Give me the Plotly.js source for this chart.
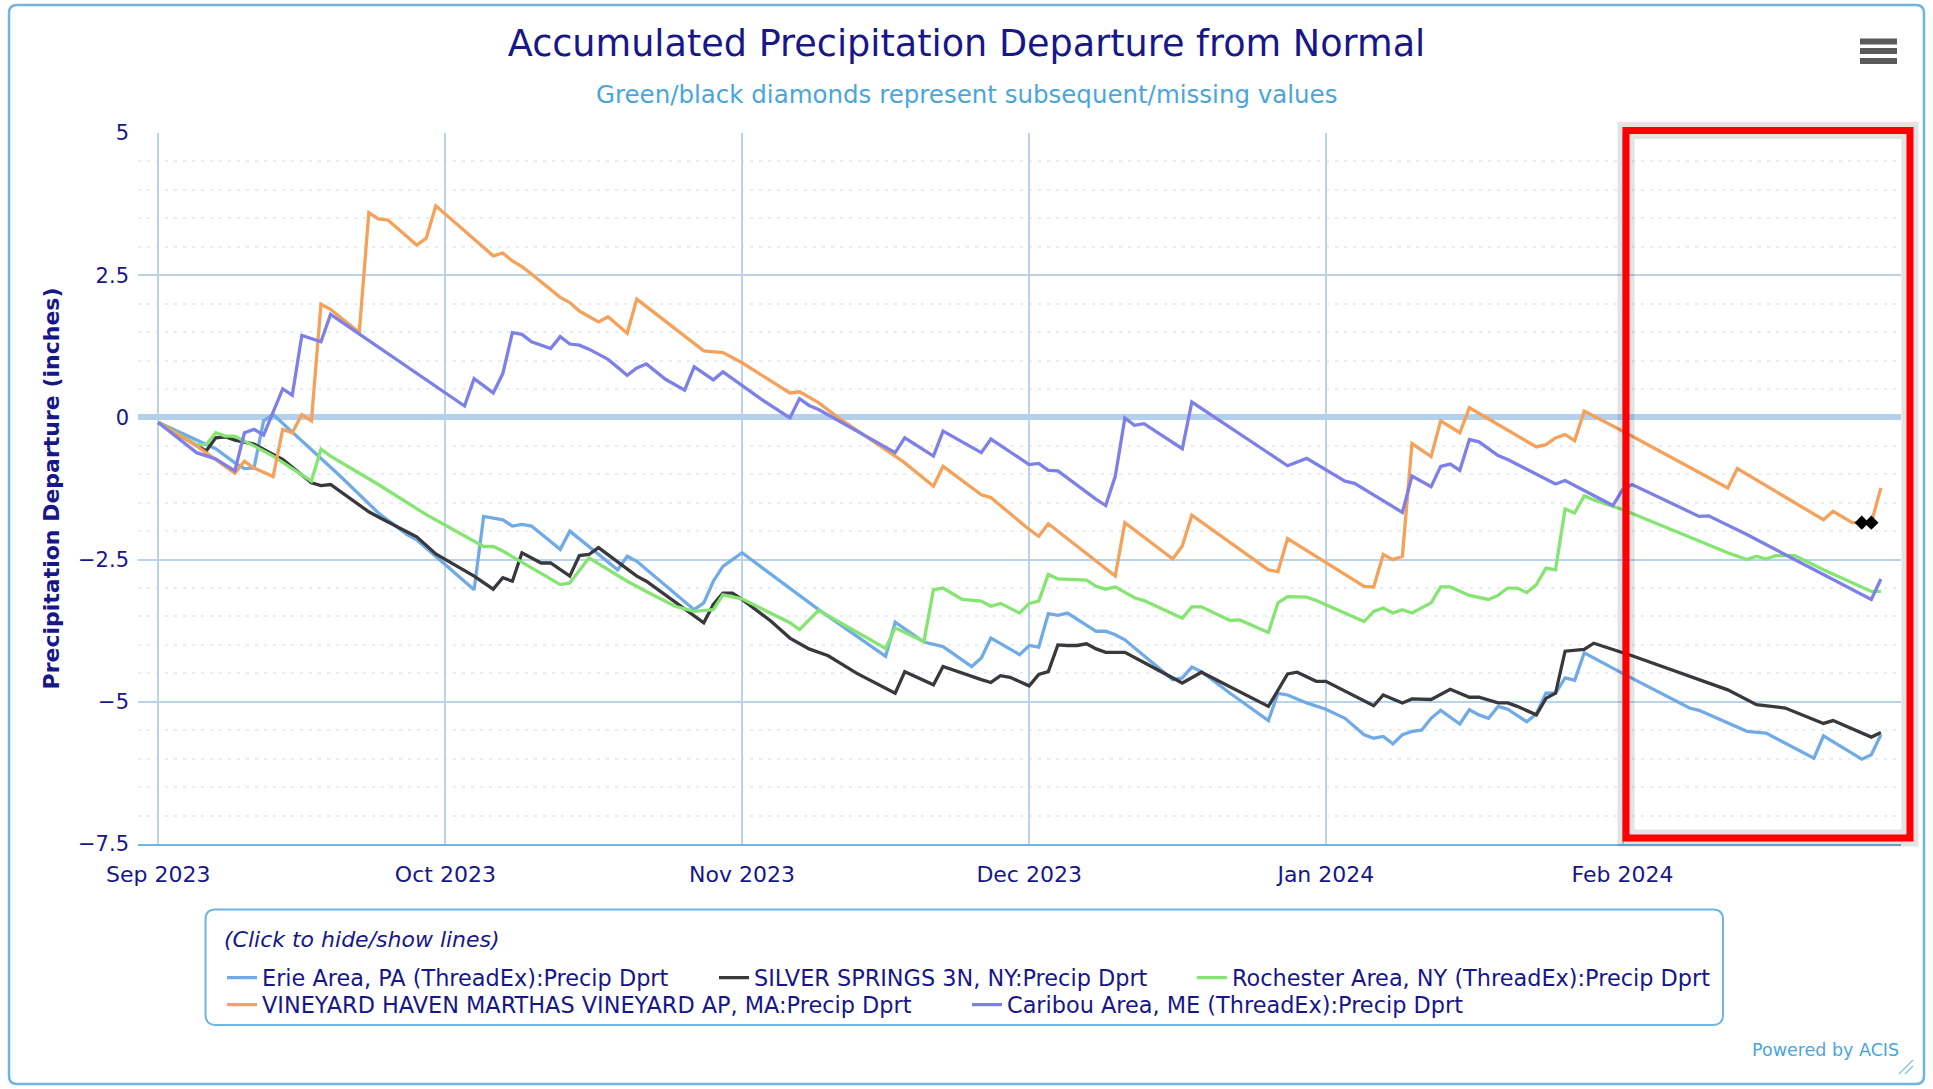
<!DOCTYPE html>
<html>
<head>
<meta charset="utf-8">
<script src="https://cdn.plot.ly/plotly-3.0.1.min.js"></script>
<style>
  html, body { margin: 0; padding: 0; background: #ffffff; overflow: hidden; }
  #chart { width: 1933px; height: 1089px; }
</style>
</head>
<body>
<div id="chart"></div>
<script>
// ---------------- DATA (x = days since 2023-09-01, y = inches) ----------------
const seasonStart = '2023-09-01';

const erieName = 'Erie Area, PA (ThreadEx):Precip Dprt';
const erieDay = [0,4,6,8,9,10,11,12,19,23,26,27,33,34,36,37,38,39,42,43,48,49,50,56,57,58,59,61,69,76,77,80,82,85,86,87,90,91,92,93,94,95,98,99,100,101,106,107,108,109,112,116,117,118,120,122,124,126,127,128,129,130,131,132,133,134,136,137,138,139,140,141,143,144,145,146,147,148,149,153,160,161,166,168,173,174,178,179,180];
const erieVal = [-0.09,-0.40,-0.55,-0.80,-0.90,-0.89,-0.06,0.05,-1.03,-1.68,-2.06,-2.15,-3.03,-1.74,-1.80,-1.91,-1.88,-1.91,-2.32,-2.00,-2.68,-2.44,-2.53,-3.38,-3.26,-2.88,-2.62,-2.38,-3.38,-4.20,-3.60,-3.95,-4.03,-4.38,-4.23,-3.88,-4.17,-4.01,-4.04,-3.45,-3.48,-3.44,-3.76,-3.76,-3.82,-3.91,-4.61,-4.58,-4.39,-4.47,-4.85,-5.33,-4.85,-4.88,-5.02,-5.13,-5.29,-5.58,-5.64,-5.61,-5.74,-5.58,-5.52,-5.50,-5.29,-5.15,-5.39,-5.14,-5.23,-5.29,-5.08,-5.13,-5.35,-5.21,-4.85,-4.85,-4.58,-4.62,-4.14,-4.50,-5.11,-5.15,-5.52,-5.55,-5.99,-5.60,-6.01,-5.93,-5.58];

const silverName = 'SILVER SPRINGS 3N, NY:Precip Dprt';
const silverDay = [0,5,6,7,8,10,12,13,16,17,18,22,23,27,29,33,35,36,37,38,40,41,43,44,45,46,50,51,57,58,59,60,61,64,66,68,70,73,77,78,81,82,86,87,88,89,91,92,93,94,95,96,97,98,99,101,103,107,109,116,118,119,121,122,127,128,130,131,133,135,137,138,140,141,142,144,145,146,147,148,149,150,154,164,167,170,174,175,179,180];
const silverVal = [-0.09,-0.59,-0.36,-0.34,-0.40,-0.47,-0.65,-0.74,-1.15,-1.20,-1.18,-1.66,-1.75,-2.10,-2.40,-2.79,-3.02,-2.82,-2.88,-2.38,-2.56,-2.56,-2.79,-2.43,-2.41,-2.29,-2.79,-2.88,-3.61,-3.29,-3.09,-3.09,-3.20,-3.58,-3.88,-4.07,-4.19,-4.50,-4.85,-4.47,-4.70,-4.38,-4.61,-4.66,-4.54,-4.57,-4.72,-4.52,-4.47,-4.00,-4.01,-4.01,-3.98,-4.07,-4.13,-4.13,-4.31,-4.67,-4.48,-5.08,-4.51,-4.48,-4.64,-4.64,-5.07,-4.88,-5.02,-4.95,-4.96,-4.78,-4.92,-4.92,-5.02,-5.02,-5.08,-5.23,-4.94,-4.85,-4.11,-4.10,-4.08,-3.97,-4.19,-4.79,-5.05,-5.11,-5.38,-5.33,-5.62,-5.54];

const rochName = 'Rochester Area, NY (ThreadEx):Precip Dprt';
const rochDay = [0,4,5,6,7,8,10,12,16,17,18,22,23,28,34,35,36,42,43,45,49,51,54,56,58,59,61,66,67,69,76,77,80,81,82,84,86,87,88,90,91,92,93,94,95,97,98,99,100,102,103,107,108,109,112,113,116,117,118,120,121,126,127,128,129,130,131,132,133,134,135,137,139,140,141,142,143,144,145,146,147,148,149,150,153,164,166,167,168,169,171,174,179,180];
const rochVal = [-0.09,-0.48,-0.48,-0.27,-0.33,-0.33,-0.50,-0.68,-1.12,-0.56,-0.68,-1.09,-1.18,-1.71,-2.27,-2.27,-2.35,-2.94,-2.91,-2.47,-2.88,-3.06,-3.32,-3.41,-3.38,-3.12,-3.19,-3.61,-3.73,-3.39,-4.06,-3.70,-3.94,-3.03,-3.00,-3.20,-3.23,-3.32,-3.27,-3.44,-3.27,-3.23,-2.76,-2.84,-2.85,-2.86,-2.97,-3.02,-2.98,-3.17,-3.22,-3.53,-3.33,-3.33,-3.57,-3.56,-3.78,-3.26,-3.15,-3.16,-3.22,-3.59,-3.41,-3.35,-3.44,-3.38,-3.44,-3.35,-3.26,-2.98,-2.98,-3.13,-3.20,-3.13,-3.00,-3.00,-3.08,-2.94,-2.65,-2.68,-1.61,-1.68,-1.38,-1.45,-1.62,-2.38,-2.50,-2.44,-2.49,-2.43,-2.43,-2.68,-3.06,-3.06];

const vineName = 'VINEYARD HAVEN MARTHAS VINEYARD AP, MA:Precip Dprt';
const vineDay = [0,4,8,9,10,12,13,14,15,16,17,18,21,22,23,24,27,28,29,35,36,37,38,39,42,43,44,46,47,49,50,57,59,61,66,67,69,71,77,78,81,82,86,87,91,92,93,98,100,101,106,107,108,116,117,118,126,127,128,129,130,131,133,134,136,137,144,145,146,147,148,149,153,164,165,174,175,177,178,179,180];
const vineVal = [-0.09,-0.50,-0.98,-0.77,-0.89,-1.04,-0.21,-0.27,0.05,-0.06,1.99,1.90,1.49,3.60,3.49,3.47,3.03,3.15,3.72,2.84,2.89,2.75,2.65,2.52,2.11,2.02,1.87,1.68,1.77,1.48,2.08,1.17,1.14,0.96,0.43,0.45,0.26,0.00,-0.68,-0.80,-1.21,-0.86,-1.36,-1.41,-1.97,-2.09,-1.87,-2.53,-2.79,-1.85,-2.49,-2.26,-1.72,-2.68,-2.71,-2.13,-2.97,-2.98,-2.41,-2.50,-2.44,-0.46,-0.69,-0.06,-0.27,0.17,-0.52,-0.48,-0.36,-0.30,-0.41,0.11,-0.24,-1.24,-0.90,-1.80,-1.65,-1.85,-1.85,-1.85,-1.24];

const caribouName = 'Caribou Area, ME (ThreadEx):Precip Dprt';
const caribouDay = [0,4,6,8,9,10,11,12,13,14,15,17,18,32,33,35,36,37,38,39,41,42,43,44,45,47,49,50,51,53,55,56,58,59,63,66,67,68,69,77,78,81,82,86,87,91,92,93,94,98,99,100,101,102,103,107,108,118,120,124,125,130,131,133,134,135,136,137,138,140,141,146,147,152,153,154,161,162,166,179,180];
const caribouVal = [-0.09,-0.62,-0.73,-0.94,-0.27,-0.21,-0.31,0.08,0.50,0.39,1.44,1.33,1.81,0.20,0.68,0.43,0.77,1.49,1.46,1.33,1.21,1.42,1.29,1.27,1.20,1.02,0.74,0.87,0.94,0.67,0.48,0.89,0.66,0.80,0.32,-0.01,0.33,0.21,0.14,-0.62,-0.36,-0.68,-0.24,-0.62,-0.38,-0.83,-0.81,-0.93,-0.94,-1.44,-1.55,-1.03,-0.01,-0.14,-0.11,-0.55,0.27,-0.85,-0.72,-1.12,-1.16,-1.67,-1.03,-1.22,-0.86,-0.82,-0.93,-0.39,-0.43,-0.67,-0.74,-1.17,-1.11,-1.55,-1.27,-1.18,-1.74,-1.73,-2.06,-3.20,-2.84];

// missing values (black diamonds) on the Vineyard Haven series
const missingDay = [178,179];
const missingVal = [-1.85,-1.85];

// ---------------- helpers ----------------
function dayToDate(n) {
  const t = Date.UTC(2023, 8, 1) + n * 86400000;
  return new Date(t).toISOString().slice(0, 10);
}
const W = 1933, H = 1089;
const ML = 138, MR = 32, MT = 133, MB = 245;
const PW = W - ML - MR, PH = H - MT - MB;
const px = x => (x - ML) / PW;          // pixel -> paper x
const py = y => (H - MB - y) / PH;      // pixel -> paper y

const FONT = 'DejaVu Sans, Verdana, sans-serif';
const NAVY = '#17178a';
const LIGHTBLUE = '#4aa6da';

const colors = {
  erie: '#70abe7',
  silver: '#38383d',
  roch: '#84e571',
  vine: '#f6a15a',
  caribou: '#7d80e7'
};

function series(name, days, vals, color, legendId, extra) {
  return Object.assign({
    type: 'scatter', mode: 'lines', name: name,
    x: days.map(dayToDate), y: vals,
    line: { color: color, width: 3.3 },
    legend: legendId,
    hovertemplate: '%{x|%b %d, %Y}: %{y:.2f}<extra>' + name + '</extra>'
  }, extra || {});
}

const traces = [
  series(erieName, erieDay, erieVal, colors.erie, 'legend'),
  series(silverName, silverDay, silverVal, colors.silver, 'legend2'),
  series(rochName, rochDay, rochVal, colors.roch, 'legend3'),
  series(vineName, vineDay, vineVal, colors.vine, 'legend4'),
  series(caribouName, caribouDay, caribouVal, colors.caribou, 'legend5'),
  {
    type: 'scatter', mode: 'markers', name: 'Missing',
    x: missingDay.map(dayToDate), y: missingVal,
    marker: { symbol: 'diamond', color: '#000000', size: 11 },
    showlegend: false, hoverinfo: 'skip'
  }
];

function roundRect(x0, y0, x1, y1, r) {
  const X = v => px(v).toFixed(5), Y = v => py(v).toFixed(5);
  return 'M' + X(x0 + r) + ',' + Y(y0) +
    ' L' + X(x1 - r) + ',' + Y(y0) +
    ' Q' + X(x1) + ',' + Y(y0) + ' ' + X(x1) + ',' + Y(y0 + r) +
    ' L' + X(x1) + ',' + Y(y1 - r) +
    ' Q' + X(x1) + ',' + Y(y1) + ' ' + X(x1 - r) + ',' + Y(y1) +
    ' L' + X(x0 + r) + ',' + Y(y1) +
    ' Q' + X(x0) + ',' + Y(y1) + ' ' + X(x0) + ',' + Y(y1 - r) +
    ' L' + X(x0) + ',' + Y(y0 + r) +
    ' Q' + X(x0) + ',' + Y(y0) + ' ' + X(x0 + r) + ',' + Y(y0) + ' Z';
}
function pRect(x0, y0, x1, y1, style) {
  return Object.assign({ type: 'rect', xref: 'paper', yref: 'paper',
    x0: px(x0), x1: px(x1), y0: py(y1), y1: py(y0) }, style);
}

const legendFont = { family: FONT, size: 22.4, color: NAVY };
function legendAt(xPix, yTopPix, extra) {
  return Object.assign({
    orientation: 'h', x: px(xPix), y: py(yTopPix), xanchor: 'left', yanchor: 'top',
    xref: 'paper', yref: 'paper', bgcolor: 'rgba(0,0,0,0)', borderwidth: 0,
    font: legendFont, itemwidth: 30, tracegroupgap: 0
  }, extra || {});
}

const layout = {
  width: W, height: H,
  margin: { l: ML, r: MR, t: MT, b: MB, autoexpand: false },
  paper_bgcolor: '#ffffff', plot_bgcolor: '#ffffff',
  font: { family: FONT, color: NAVY },
  showlegend: true,
  title: {
    text: 'Accumulated Precipitation Departure from Normal',
    font: { family: FONT, size: 36.6, color: NAVY },
    x: 0.5, xref: 'container', xanchor: 'center',
    y: 1 - 43 / H, yref: 'container', yanchor: 'middle'
  },
  xaxis: {
    type: 'date',
    range: ['2023-08-29 21:07', '2024-03-01 02:24'],
    tick0: seasonStart, dtick: 'M1', tickformat: '%b %Y',
    showgrid: true, gridcolor: '#b9d3ea', gridwidth: 2,
    showline: true, linecolor: '#74b4e2', linewidth: 2,
    ticks: '', ticklabelstandoff: 10,
    tickfont: { family: FONT, size: 22, color: NAVY },
    zeroline: false, automargin: false, fixedrange: true
  },
  yaxis: {
    range: [-7.5, 5], dtick: 2.5, tick0: 0,
    showgrid: true, gridcolor: '#b9d3ea', gridwidth: 2,
    zeroline: true, zerolinecolor: '#b3d1ec', zerolinewidth: 6,
    minor: { dtick: 0.5, showgrid: true, gridcolor: '#e6edf4', gridwidth: 1.5, griddash: '3px,6px' },
    ticks: '', ticklabelstandoff: 8,
    tickfont: { family: FONT, size: 21, color: NAVY },
    title: { text: 'Precipitation Departure (inches)', standoff: 12,
             font: { family: FONT, size: 22, color: NAVY, weight: 'bold' } },
    automargin: false, fixedrange: true
  },
  legend: legendAt(222, 956.5),
  legend2: legendAt(714, 956.5),
  legend3: legendAt(1192, 956.5),
  legend4: legendAt(222, 983.5),
  legend5: legendAt(967, 983.5),
  annotations: [
    { text: 'Green/black diamonds represent subsequent/missing values',
      xref: 'paper', yref: 'paper', x: px(966.5), y: py(94),
      xanchor: 'center', yanchor: 'middle', showarrow: false,
      font: { family: FONT, size: 24.5, color: LIGHTBLUE } },
    { text: '(Click to hide/show lines)',
      xref: 'paper', yref: 'paper', x: px(222), y: py(940),
      xanchor: 'left', yanchor: 'middle', showarrow: false,
      font: { family: FONT, size: 22, color: NAVY, style: 'italic' } },
    { text: 'Powered by ACIS',
      xref: 'paper', yref: 'paper', x: px(1901), y: py(1050),
      xanchor: 'right', yanchor: 'middle', showarrow: false,
      font: { family: FONT, size: 17.5, color: LIGHTBLUE } }
  ],
  shapes: [
    // outer chart border
    { type: 'path', xref: 'paper', yref: 'paper', path: roundRect(9, 5, 1924, 1084, 8),
      line: { color: '#6fb5e2', width: 2.5 }, layer: 'above' },
    // legend box
    { type: 'path', xref: 'paper', yref: 'paper', path: roundRect(205.5, 909.5, 1723, 1025, 10),
      line: { color: '#6fb5e2', width: 2 }, layer: 'above' },
    // menu icon
    pRect(1860, 38.5, 1897, 44.5, { fillcolor: '#5a5a5a', line: { width: 0 } }),
    pRect(1860, 48, 1897, 54, { fillcolor: '#5a5a5a', line: { width: 0 } }),
    pRect(1860, 58, 1897, 64, { fillcolor: '#5a5a5a', line: { width: 0 } }),
    // highlight box shadow + red box
    pRect(1626, 130.5, 1910, 838, { line: { color: 'rgba(0,0,0,0.11)', width: 17 }, layer: 'above' }),
    pRect(1626, 130.5, 1910, 838, { line: { color: '#ff0000', width: 7 }, layer: 'above' }),
    // resize corner marks
    { type: 'line', xref: 'paper', yref: 'paper', x0: px(1899), y0: py(1074), x1: px(1913), y1: py(1060),
      line: { color: '#8cc4e8', width: 1.5 } },
    { type: 'line', xref: 'paper', yref: 'paper', x0: px(1905), y0: py(1074), x1: px(1913), y1: py(1066),
      line: { color: '#8cc4e8', width: 1.5 } }
  ]
};

Plotly.newPlot('chart', traces, layout, { displayModeBar: false, responsive: false });
</script>
</body>
</html>
